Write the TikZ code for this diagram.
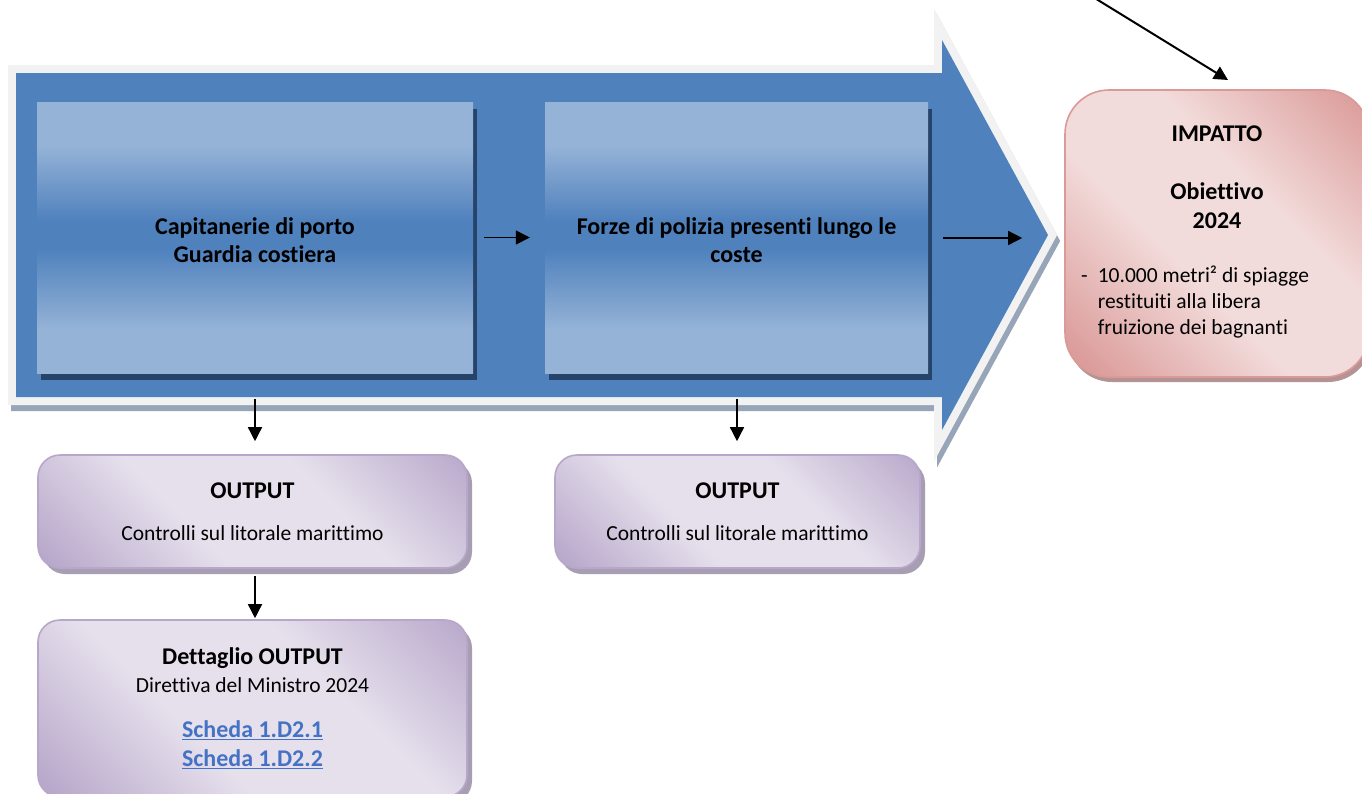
\documentclass[tikz,border=0pt]{standalone}
\usepackage{fontspec}
\setmainfont[Ligatures=NoCommon]{Carlito}
\usetikzlibrary{arrows.meta,calc,shadows}
\definecolor{arrowblue}{HTML}{4F81BD}
\definecolor{rimgrey}{HTML}{F2F2F2}
\definecolor{rimshadow}{HTML}{97A5B8}
\definecolor{boxlight}{HTML}{95B3D7}
\definecolor{boxmid}{HTML}{4F81BD}
\definecolor{boxshadow}{HTML}{26436A}
\definecolor{plight}{HTML}{E6E0EC}
\definecolor{pdark}{HTML}{B3A2C7}
\definecolor{pborder}{HTML}{B7A7CB}
\definecolor{pshadow}{HTML}{A89EB3}
\definecolor{rlight}{HTML}{F2DCDB}
\definecolor{rdark}{HTML}{D99694}
\definecolor{rborder}{HTML}{DA9A98}
\definecolor{rshadow}{HTML}{B59395}
\definecolor{linkblue}{HTML}{4472C4}
\pgfdeclareverticalshading{blueshade}{100bp}{color(0bp)=(boxlight); color(33bp)=(boxlight); color(48bp)=(boxmid); color(53bp)=(boxmid); color(67bp)=(boxlight); color(100bp)=(boxlight)}
\pgfdeclarehorizontalshading{purpleshade}{100bp}{color(0bp)=(pdark); color(14bp)=(pdark); color(40bp)=(plight); color(62bp)=(plight); color(88bp)=(pdark); color(100bp)=(pdark)}
\pgfdeclarehorizontalshading{pinkshade}{100bp}{color(0bp)=(rdark); color(16bp)=(rdark); color(42bp)=(rlight); color(60bp)=(rlight); color(86bp)=(rdark); color(100bp)=(rdark)}
\newcommand\bigb{\fontsize{24}{28}\selectfont\bfseries}
\newcommand\regt{\fontsize{21.5}{27}\selectfont}
\begin{document}
\begin{tikzpicture}[x=1pt,y=-1pt,
  txt/.style={font=\regt, align=center},
  bluebox/.style={shade, shading=blueshade, minimum height=271pt, inner sep=0pt,
    align=center, font=\bigb,
    drop shadow={shadow xshift=4pt, shadow yshift=-7pt, fill=boxshadow, opacity=1}},
  purplebox/.style={shade, shading=purpleshade, shading angle=45, draw=pborder, line width=1.6pt,
    rounded corners=22pt, minimum width=429pt, inner sep=0pt, txt,
    drop shadow={shadow xshift=5pt, shadow yshift=-6pt, fill=pshadow, opacity=1}},
  pinkbox/.style={shade, shading=pinkshade, shading angle=45, draw=rborder, line width=1.6pt,
    rounded corners=44pt, minimum width=304pt, minimum height=287pt, inner sep=0pt,
    drop shadow={shadow xshift=3pt, shadow yshift=-5pt, fill=rshadow, opacity=1}},
  arr/.style={-{Triangle[length=14pt,width=14pt]}, line width=1.5pt, black}
]
\clip (0,0) rectangle (1362,793);
\fill[white] (0,0) rectangle (1362,793);
% big arrow: shadow, rim, body
\begin{scope}[shift={(3,6)}]
\draw[rimshadow, fill=rimshadow, line width=16pt, line join=miter]
  (16,73) -- (942,73) -- (942,40) -- (1048,235) -- (942,430) -- (942,397) -- (16,397) -- cycle;
\end{scope}
\draw[rimgrey, fill=rimgrey, line width=16pt, line join=miter]
  (16,73) -- (942,73) -- (942,40) -- (1048,235) -- (942,430) -- (942,397) -- (16,397) -- cycle;
\fill[arrowblue]
  (16,73) -- (942,73) -- (942,40) -- (1048,235) -- (942,430) -- (942,397) -- (16,397) -- cycle;

% inner boxes
\node[bluebox, minimum width=436pt] (box1) at (255,237.5) {\rule{0pt}{23pt}Capitanerie di porto\\Guardia costiera};
\node[bluebox, minimum width=383pt] (box2) at (736.5,237.5) {\rule{0pt}{23pt}Forze di polizia presenti lungo le\\coste};

% output boxes
\node[purplebox, minimum height=113pt] (out1) at (252.5,511.5)
  {{\bigb OUTPUT}\\[15pt]Controlli sul litorale marittimo};
\node[purplebox, minimum width=365pt, minimum height=113pt] (out2) at (737.5,511.5)
  {{\bigb OUTPUT}\\[15pt]Controlli sul litorale marittimo};
\node[purplebox, minimum height=177pt] (detail) at (252.5,708.5)
  {{\bigb Dettaglio OUTPUT}\\[1pt]Direttiva del Ministro 2024\\[18pt]
   {\bigb\color{linkblue}\underline{Scheda 1.D2.1}}\\[2pt]
   {\bigb\color{linkblue}\underline{Scheda 1.D2.2}}};

% impact box
\node[pinkbox] (impact) at (1217,233.5) {};
\node[align=center, font=\fontsize{24}{29}\selectfont\bfseries] (imptitle) at (1217,177)
  {IMPATTO\\[29pt]Obiettivo\\2024};
\node[anchor=west, inner sep=0pt, font=\fontsize{21.5}{26}\selectfont] (impbullet) at (1081,303)
  {\begin{tabular}{@{}l@{\hspace{10pt}}l@{}}-&10.000 metri² di spiagge\\&restituiti alla libera\\&fruizione dei bagnanti\end{tabular}};

% connectors
\coordinate (d1) at (255,399);
\coordinate (d2) at (737,399);
\coordinate (topsrc) at (1093,-3);
\coordinate (toptip) at (1228,80);
\draw[arr, shorten <=11pt, shorten >=15pt] (box1.east) -- (box2.west);
\draw[arr, shorten <=15pt, shorten >=42pt] ($(box2.east)+(0,0.5)$) -- ($(box2.east -| impact.west)+(0,0.5)$);
\draw[arr, line width=2pt] (topsrc) -- (toptip);
\draw[arr, shorten >=13pt] (d1) -- (d1 |- out1.north);
\draw[arr, shorten >=13pt] (d2) -- (d2 |- out2.north);
\draw[arr, shorten <=7pt, shorten >=1pt] (d1 |- out1.south) -- (d1 |- detail.north);
\end{tikzpicture}
\end{document}
